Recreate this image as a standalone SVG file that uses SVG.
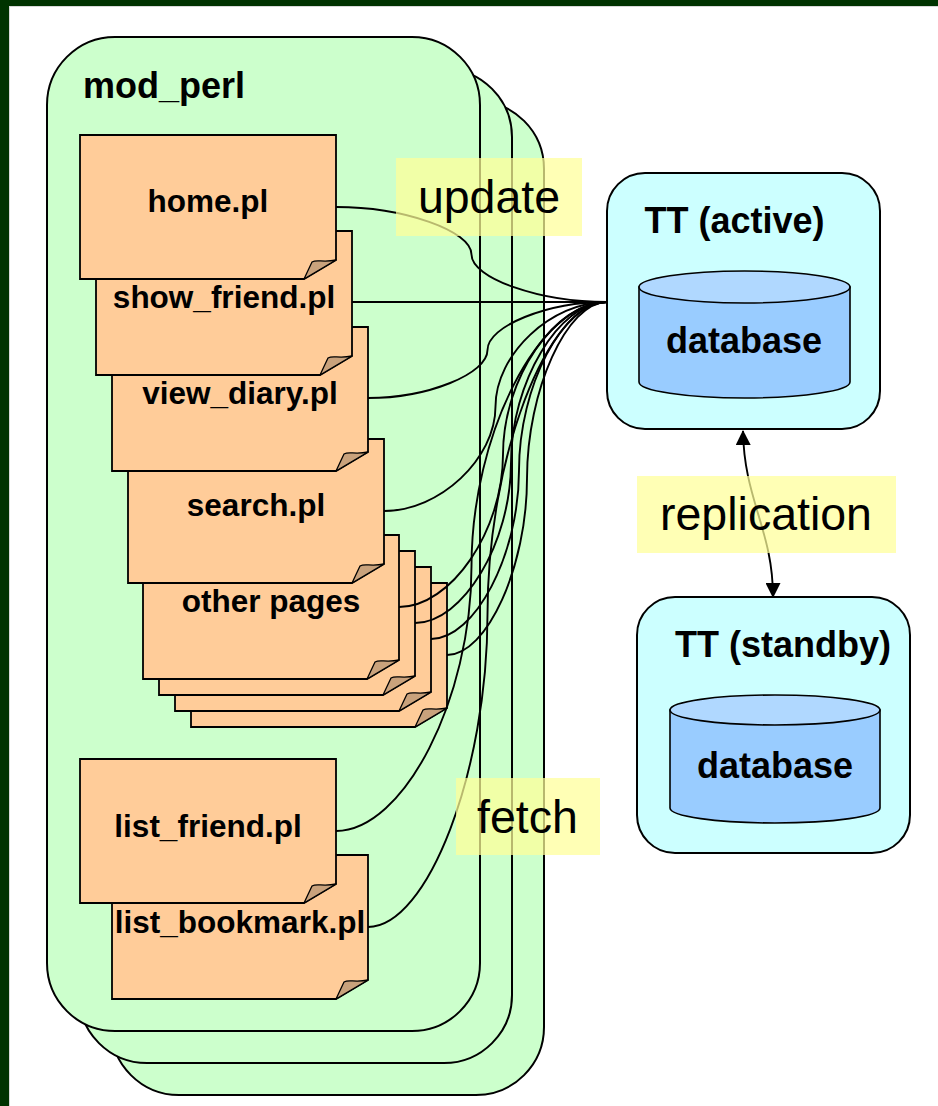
<svg xmlns="http://www.w3.org/2000/svg" width="938" height="1106" viewBox="0 0 938 1106">
<style>
.bold{font-family:"Liberation Sans",Arial,sans-serif;font-weight:bold;fill:#000}
.reg{font-family:"Liberation Sans",Arial,sans-serif;fill:#000}
.mp{fill:#ccffcc;stroke:#000;stroke-width:2}
.doc{fill:#ffcc99;stroke:#000;stroke-width:1.8;stroke-linejoin:miter}
.fold{fill:#c9a27c;stroke:#000;stroke-width:1.3;stroke-linejoin:round}
.tt{fill:#ccffff;stroke:#000;stroke-width:2}
.cylb{fill:#99ccff;stroke:#000;stroke-width:1.6}
.cylt{fill:#b0d8ff;stroke:#000;stroke-width:1.6}
.conn{fill:none;stroke:#000;stroke-width:1.9}
.lbl{fill:#ffff99;fill-opacity:0.72}
.dt{font-size:31.5px;text-anchor:middle}
</style>
<defs>
<marker id="ah" viewBox="0 0 15 15" refX="14" refY="7.5" markerWidth="15" markerHeight="15" markerUnits="userSpaceOnUse" orient="auto-start-reverse">
<path d="M0,0 L15,7.5 L0,15 Z" fill="#000"/>
</marker>
</defs>
<rect x="0" y="0" width="938" height="1106" fill="#003300"/>
<rect x="9" y="6" width="929" height="1100" fill="#d8d8d8"/>
<rect x="10" y="7" width="928" height="1099" fill="#ffffff"/>

<g id="mod_perl">
<rect class="mp" x="111" y="101" width="433" height="994" rx="68" ry="68"/>
<rect class="mp" x="79" y="69" width="433" height="994" rx="68" ry="68"/>
<rect class="mp" x="47" y="37" width="433" height="994" rx="68" ry="68"/>
<text class="bold" x="83" y="98" font-size="36">mod_perl</text>
</g>

<g id="other_pages">
<path class="doc" d="M191,583 H447 V708 L415,727 H191 Z"/>
<path class="fold" d="M415,727 L423,710 C428,707 434,711 447,708 Z"/>
<path class="doc" d="M175,567 H431 V692 L399,711 H175 Z"/>
<path class="fold" d="M399,711 L407,694 C412,691 418,695 431,692 Z"/>
<path class="doc" d="M159,551 H415 V676 L383,695 H159 Z"/>
<path class="fold" d="M383,695 L391,678 C396,675 402,679 415,676 Z"/>
<path class="doc" d="M143,535 H399 V660 L367,679 H143 Z"/>
<path class="fold" d="M367,679 L375,662 C380,659 386,663 399,660 Z"/>
<text class="bold dt" x="271" y="612">other pages</text>
</g>

<g id="search">
<path class="doc" d="M128,439 H384 V564 L352,583 H128 Z"/>
<path class="fold" d="M352,583 L360,566 C365,563 371,567 384,564 Z"/>
<text class="bold dt" x="256" y="516">search.pl</text>
</g>

<g id="view_diary">
<path class="doc" d="M112,327 H368 V452 L336,471 H112 Z"/>
<path class="fold" d="M336,471 L344,454 C349,451 355,455 368,452 Z"/>
<text class="bold dt" x="240" y="404">view_diary.pl</text>
</g>

<g id="show_friend">
<path class="doc" d="M96,231 H352 V356 L320,375 H96 Z"/>
<path class="fold" d="M320,375 L328,358 C333,355 339,359 352,356 Z"/>
<text class="bold dt" x="224" y="308">show_friend.pl</text>
</g>

<g id="home">
<path class="doc" d="M80,135 H336 V260 L304,279 H80 Z"/>
<path class="fold" d="M304,279 L312,262 C317,259 323,263 336,260 Z"/>
<text class="bold dt" x="208" y="212">home.pl</text>
</g>

<g id="list_bookmark">
<path class="doc" d="M112,855 H368 V980 L336,999 H112 Z"/>
<path class="fold" d="M336,999 L344,982 C349,979 355,983 368,980 Z"/>
<text class="bold dt" x="240" y="933">list_bookmark.pl</text>
</g>

<g id="list_friend">
<path class="doc" d="M80,759 H336 V884 L304,903 H80 Z"/>
<path class="fold" d="M304,903 L312,886 C317,883 323,887 336,884 Z"/>
<text class="bold dt" x="208" y="837">list_friend.pl</text>
</g>

<g id="tt_active">
<rect class="tt" x="607" y="173" width="273" height="256" rx="38" ry="38"/>
<text class="bold" x="734.5" y="233" font-size="36" text-anchor="middle">TT (active)</text>
<path class="cylb" d="M639,287 V382 A105.5,16 0 0 0 850,382 V287 Z"/>
<ellipse class="cylt" cx="744.5" cy="287" rx="105.5" ry="16"/>
<text class="bold" x="744" y="353" font-size="36" text-anchor="middle">database</text>
</g>

<g id="tt_standby">
<rect class="tt" x="637" y="597" width="273" height="256" rx="38" ry="38"/>
<text class="bold" x="783" y="657" font-size="36" text-anchor="middle">TT (standby)</text>
<path class="cylb" d="M670,710 V808 A105,15 0 0 0 880,808 V710 Z"/>
<ellipse class="cylt" cx="775" cy="710" rx="105" ry="15"/>
<text class="bold" x="775" y="778" font-size="36" text-anchor="middle">database</text>
</g>

<g id="connectors">
<path class="conn" d="M336,207 C403.75,207 471.5,230.75 471.5,254.5 C471.5,278.25 539.25,302 607,302"/>
<path class="conn" d="M352,302 H607"/>
<path class="conn" d="M368,398 C427.75,398 487.5,374 487.5,350 C487.5,326 547.25,302 607,302"/>
<path class="conn" d="M384,511 C439.75,511 495.5,458.75 495.5,406.5 C495.5,354.25 551.25,302 607,302"/>
<path class="conn" d="M399,607 C451,607 503,530.75 503,454.5 C503,378.25 555,302 607,302"/>
<path class="conn" d="M415,623 C463,623 511,542.75 511,462.5 C511,382.25 559,302 607,302"/>
<path class="conn" d="M431,639 C475,639 519,554.75 519,470.5 C519,386.25 563,302 607,302"/>
<path class="conn" d="M447,655 C487,655 527,566.75 527,478.5 C527,390.25 567,302 607,302"/>
<path class="conn" d="M336,831 C403.75,831 471.5,698.75 471.5,566.5 C471.5,434.25 539.25,302 607,302"/>
<path class="conn" d="M368,927 C427.75,927 487.5,770.75 487.5,614.5 C487.5,458.25 547.25,302 607,302"/>
<path class="conn" d="M743,431 C744,500 773,530 773,597" marker-start="url(#ah)" marker-end="url(#ah)"/>
</g>

<g id="labels">
<rect class="lbl" x="396" y="158" width="186" height="78"/>
<text class="reg" x="489" y="213" font-size="46.5" text-anchor="middle">update</text>
<rect class="lbl" x="456" y="778" width="144" height="77"/>
<text class="reg" x="527.5" y="833" font-size="46.5" text-anchor="middle">fetch</text>
<rect class="lbl" x="637" y="476" width="259" height="77"/>
<text class="reg" x="766" y="530" font-size="46.5" text-anchor="middle">replication</text>
</g>
</svg>
